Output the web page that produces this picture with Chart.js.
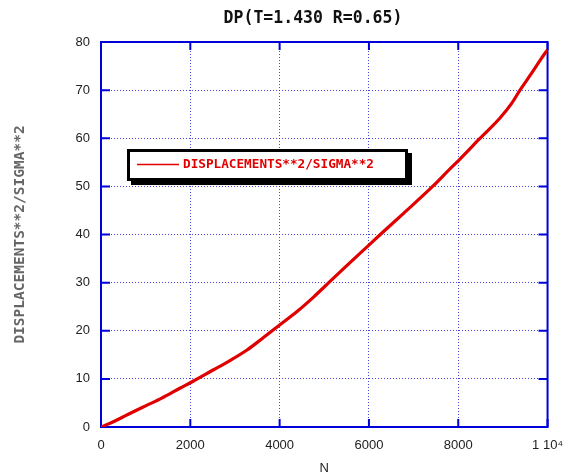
<!DOCTYPE html>
<html>
<head>
<meta charset="utf-8">
<script src="https://cdn.jsdelivr.net/npm/chart.js@4/dist/chart.umd.min.js"></script>
<style>
  body { margin: 0; background: #fff; }
  #wrap { width: 574px; height: 475px; }
</style>
</head>
<body>
<div id="wrap"><canvas id="dp-chart" width="574" height="475"></canvas></div>
<script>
// values
const nSteps = [0, 300, 600, 1000, 1360, 1775, 2000, 2520, 2850, 3270, 3600, 4000, 4390, 4760, 5135, 5510, 6000, 6255, 6775, 7450, 7810, 8000, 8480, 8935, 9200, 9390, 9620, 9840, 10000];
const dispSq = [0, 1.2, 2.6, 4.4, 6.0, 8.1, 9.2, 11.9, 13.6, 16.0, 18.3, 21.2, 24.0, 27.0, 30.3, 33.6, 37.8, 40.0, 44.4, 50.2, 53.6, 55.3, 59.9, 64.2, 67.3, 70.1, 73.2, 76.3, 78.4];
const xTicks = [0, 2000, 4000, 6000, 8000, 10000];
const yTicks = [0, 10, 20, 30, 40, 50, 60, 70, 80];
const chartTitle = 'DP(T=1.430 R=0.65)';
const seriesLabel = 'DISPLACEMENTS**2/SIGMA**2';

const blue = '#0000d8';
const gridBlue = 'rgba(40, 40, 220, 0.85)';
const red = '#e00000';

// frame, inward ticks, title and the boxed legend
const decor = {
    id: 'decor',
    beforeDatasetsDraw(chart) {
        const {ctx, chartArea: a, scales} = chart;
        ctx.save();
        ctx.strokeStyle = blue;
        ctx.lineWidth = 2;
        ctx.strokeRect(a.left, a.top, a.right - a.left, a.bottom - a.top);
        ctx.beginPath();
        xTicks.forEach(v => {
            const x = scales.x.getPixelForValue(v);
            ctx.moveTo(x, a.bottom); ctx.lineTo(x, a.bottom - 8);
            ctx.moveTo(x, a.top); ctx.lineTo(x, a.top + 8);
        });
        yTicks.forEach(v => {
            const y = scales.y.getPixelForValue(v);
            ctx.moveTo(a.left, y); ctx.lineTo(a.left + 9, y);
            ctx.moveTo(a.right, y); ctx.lineTo(a.right - 9, y);
        });
        ctx.stroke();
        ctx.restore();
    },
    afterDraw(chart) {
        const ctx = chart.ctx;
        const ds = chart.data.datasets[0];
        ctx.save();
        // title, a bit taller than the plain font
        ctx.font = 'bold 16.5px "DejaVu Sans Mono"';
        ctx.fillStyle = '#111';
        ctx.textAlign = 'center';
        ctx.textBaseline = 'middle';
        ctx.save();
        ctx.translate(313, 18.5);
        ctx.scale(1, 1.1);
        ctx.fillText(chartTitle, 0, 0);
        ctx.restore();

        // legend box with shadow
        const bx = 127, by = 149, bw = 281, bh = 32;
        ctx.fillStyle = '#000';
        ctx.fillRect(bx + 4, by + 4, bw, bh);
        ctx.fillStyle = '#fff';
        ctx.fillRect(bx, by, bw, bh);
        ctx.strokeStyle = '#000';
        ctx.lineWidth = 3;
        ctx.strokeRect(bx + 1.5, by + 1.5, bw - 3, bh - 3);
        ctx.strokeStyle = ds.borderColor;
        ctx.lineWidth = 1.5;
        ctx.beginPath();
        ctx.moveTo(137, 164.5); ctx.lineTo(179, 164.5);
        ctx.stroke();
        ctx.font = 'bold 12.7px "DejaVu Sans Mono"';
        ctx.fillStyle = ds.borderColor;
        ctx.textAlign = 'left';
        ctx.fillText(ds.label, 183, 165);
        ctx.restore();
    }
};

const ctx = document.getElementById('dp-chart').getContext('2d');
new Chart(ctx, {
    type: 'line',
    data: {
        datasets: [{
            label: seriesLabel,
            data: nSteps.map((n, i) => ({x: n, y: dispSq[i]})),
            borderColor: red,
            borderWidth: 3.2,
            pointRadius: 0,
            cubicInterpolationMode: 'monotone',
            fill: false
        }]
    },
    options: {
        responsive: false,
        animation: false,
        layout: { padding: { top: 42, right: 26, left: 0, bottom: 0 } },
        plugins: {
            legend: { display: false },
            title: { display: false },
            tooltip: { enabled: false }
        },
        scales: {
            x: {
                type: 'linear',
                min: 0,
                max: 10000,
                afterBuildTicks: s => { s.ticks = xTicks.map(v => ({value: v})); },
                afterFit: s => { s.height = 48; },
                ticks: {
                    padding: 11,
                    maxRotation: 0,
                    color: '#222',
                    font: { family: '"Liberation Sans", Arial', size: 13 },
                    callback: v => v === 10000 ? '1 10\u2074' : String(v)
                },
                grid: { color: gridBlue, lineWidth: 1, drawTicks: false },
                border: { color: blue, width: 2, dash: [1, 2] },
                title: {
                    display: true,
                    text: 'N',
                    color: '#222',
                    font: { family: '"Liberation Sans", Arial', size: 13, lineHeight: 1 },
                    padding: { top: 0, bottom: 0 }
                }
            },
            y: {
                min: 0,
                max: 80,
                afterBuildTicks: s => { s.ticks = yTicks.map(v => ({value: v})); },
                afterFit: s => { s.width = 101; },
                ticks: {
                    padding: 11,
                    color: '#222',
                    font: { family: '"Liberation Sans", Arial', size: 13 }
                },
                grid: { color: gridBlue, lineWidth: 1, drawTicks: false },
                border: { color: blue, width: 2, dash: [1, 2] },
                title: {
                    display: true,
                    text: seriesLabel,
                    color: '#666',
                    font: { family: '"DejaVu Sans Mono"', size: 14.5, weight: 'bold' },
                    padding: { top: 12, bottom: 0 }
                }
            }
        }
    },
    plugins: [decor]
});
</script>
</body>
</html>
